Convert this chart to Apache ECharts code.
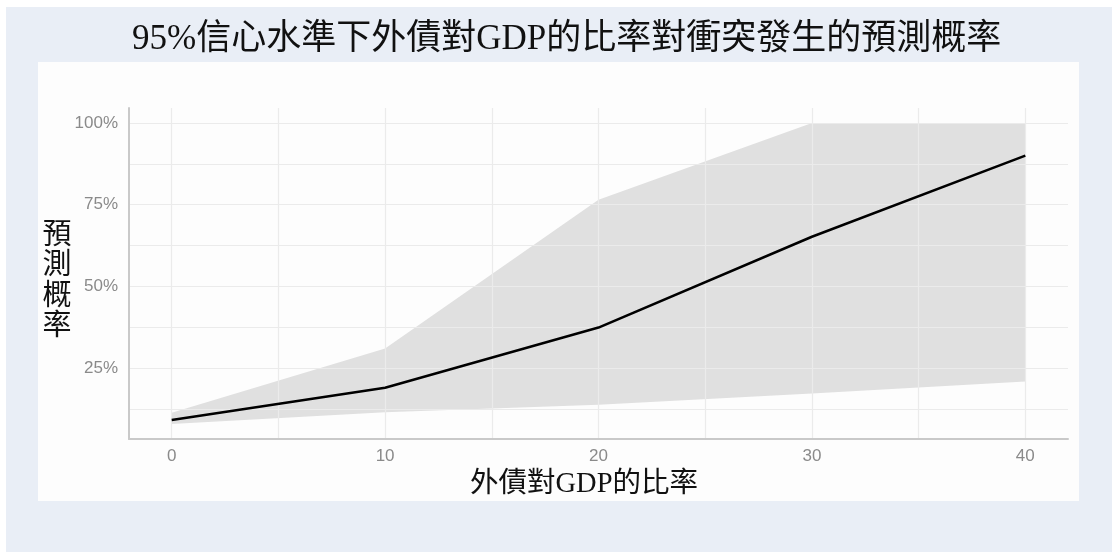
<!DOCTYPE html>
<html>
<head>
<meta charset="utf-8">
<script src="https://cdn.jsdelivr.net/npm/echarts@6/dist/echarts.min.js"></script>
<style>
  html, body { margin: 0; padding: 0; background: #ffffff; }
  #chart { width: 1112px; height: 552px; }
</style>
</head>
<body>
<div id="chart"></div>
<script>
// 外債對GDP的比率 (x) and predicted conflict probability with 95% band
const debtRatio = [0, 10, 20, 30, 40];
const predicted = [0.091, 0.190, 0.374, 0.652, 0.900];
const lowerBound = [0.079, 0.115, 0.138, 0.172, 0.209];
const upperBound = [0.113, 0.310, 0.765, 1.000, 1.000];

// axis ticks / labels
const xGridValues = [0, 5, 10, 15, 20, 25, 30, 35, 40];
const xLabelValues = [0, 10, 20, 30, 40];
const yGridValues = [0.125, 0.25, 0.375, 0.5, 0.625, 0.75, 0.875, 1.0];
const yLabelValues = [0.25, 0.5, 0.75, 1.0];

const titleText = '95%信心水準下外債對GDP的比率對衝突發生的預測概率';
const xName = '外債對GDP的比率';
const yName = '預測概率';

const serifCJK = "'Liberation Serif', 'Noto Sans CJK TC', serif";
const sans = "'Liberation Sans', Arial, sans-serif";

const bandData = debtRatio.map((x, i) => [x, lowerBound[i], upperBound[i]]);
const fitPts = debtRatio.map((x, i) => [x, predicted[i]]);

// confidence band: one polygon, upper edge left→right then lower edge right→left
function renderBand(params, api) {
  if (params.dataIndex !== 0) return null;
  const upper = bandData.map(d => api.coord([d[0], d[2]]));
  const lower = bandData.map(d => api.coord([d[0], d[1]])).reverse();
  return {
    type: 'polygon',
    shape: { points: upper.concat(lower) },
    style: { fill: '#e0e0e0' },
    silent: true
  };
}

const chart = echarts.init(document.getElementById('chart'), null, { renderer: 'canvas' });

chart.setOption({
  backgroundColor: '#ffffff',
  animation: false,
  graphic: [
    { type: 'rect', z: -20, silent: true, shape: { x: 6, y: 7, width: 1106, height: 545 }, style: { fill: '#e9eef6' } },
    { type: 'rect', z: -19, silent: true, shape: { x: 38, y: 62, width: 1041, height: 439 }, style: { fill: '#fdfdfd' } },
    // vertical y-axis title, one character per line
    {
      type: 'text',
      z: 5,
      silent: true,
      x: 57,
      y: 221,
      style: {
        text: yName.split('').join('\n'),
        fontFamily: serifCJK,
        fontSize: 29,
        lineHeight: 30.5,
        fill: '#111111',
        align: 'center',
        verticalAlign: 'top'
      }
    }
  ],
  title: {
    text: titleText,
    left: 132,
    top: 22,
    padding: 0,
    textStyle: { fontFamily: serifCJK, fontSize: 35, fontWeight: 'normal', color: '#111111' }
  },
  grid: {
    left: 129, right: 44, top: 108, bottom: 113,
    containLabel: false,
    outerBoundsMode: 'none'
  },
  xAxis: {
    type: 'value',
    min: -2,
    max: 42,
    z: 1,
    name: xName,
    nameLocation: 'middle',
    nameGap: 30,
    nameTextStyle: { fontFamily: serifCJK, fontSize: 28.5, color: '#111111', padding: [0, 29, 0, 0] },
    axisLine: { show: true, onZero: false, lineStyle: { color: '#c9c9c9', width: 2 } },
    axisTick: { show: false, customValues: xGridValues },
    axisLabel: { customValues: xLabelValues, margin: 9, fontFamily: sans, fontSize: 17, color: '#8a8a8a' },
    splitLine: { show: true, lineStyle: { color: '#ebebeb', width: 1.2 } }
  },
  yAxis: {
    type: 'value',
    min: 0.033,
    max: 1.046,
    z: 1,
    axisLine: { show: true, onZero: false, lineStyle: { color: '#c9c9c9', width: 2 } },
    axisTick: { show: false, customValues: yGridValues },
    axisLabel: {
      customValues: yLabelValues,
      margin: 11,
      fontFamily: sans,
      fontSize: 17,
      color: '#8a8a8a',
      formatter: v => Math.round(v * 100) + '%'
    },
    splitLine: { show: true, lineStyle: { color: '#ebebeb', width: 1.2 } }
  },
  series: [
    {
      name: 'band',
      type: 'custom',
      z: 0,
      silent: true,
      renderItem: renderBand,
      encode: { x: 0, y: [1, 2] },
      data: bandData
    },
    {
      name: 'predicted',
      type: 'line',
      z: 3,
      silent: true,
      symbol: 'none',
      lineStyle: { color: '#000000', width: 2.5 },
      data: fitPts
    }
  ]
});
</script>
</body>
</html>
